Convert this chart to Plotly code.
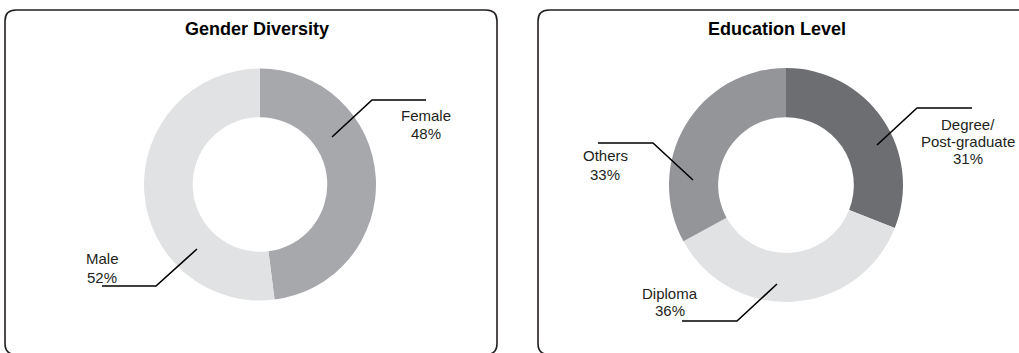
import plotly.graph_objects as go

W, H = 1019, 353

# --- data -------------------------------------------------------------
gender_labels = ["Female", "Male"]
gender_values = [48, 52]
gender_colors = ["#a7a8ab", "#e1e2e3"]

edu_labels = ["Degree/Post-graduate", "Diploma", "Others"]
edu_values = [31, 36, 33]
edu_colors = ["#6d6e71", "#e1e2e3", "#939598"]

FONT = "Liberation Sans, Arial, Helvetica, sans-serif"
INK = "#231f20"


def px(x):
    return x / W


def py(y):
    return 1 - y / H


def donut_domain(cx, cy, r):
    return dict(x=[px(cx - r), px(cx + r)], y=[py(cy + r), py(cy - r)])


def rounded_panel(x0, y0, x1, y1, r):
    pts = [
        f"M {px(x0 + r)},{py(y0)}",
        f"L {px(x1 - r)},{py(y0)}",
        f"Q {px(x1)},{py(y0)} {px(x1)},{py(y0 + r)}",
        f"L {px(x1)},{py(y1 - r)}",
        f"Q {px(x1)},{py(y1)} {px(x1 - r)},{py(y1)}",
        f"L {px(x0 + r)},{py(y1)}",
        f"Q {px(x0)},{py(y1)} {px(x0)},{py(y1 - r)}",
        f"L {px(x0)},{py(y0 + r)}",
        f"Q {px(x0)},{py(y0)} {px(x0 + r)},{py(y0)}",
        "Z",
    ]
    return dict(type="path", xref="paper", yref="paper", path=" ".join(pts),
                line=dict(color=INK, width=1.6), fillcolor="rgba(0,0,0,0)",
                layer="below")


def leader(points):
    d = "M " + " L ".join(f"{px(x)},{py(y)}" for x, y in points)
    return dict(type="path", xref="paper", yref="paper", path=d,
                line=dict(color="#000000", width=1.6))


def text_lines(lines, cx, ys, size=15):
    out = []
    for t, y in zip(lines, ys):
        out.append(dict(text=t, x=px(cx), y=py(y), xref="paper", yref="paper",
                        xanchor="center", yanchor="middle", showarrow=False,
                        font=dict(family=FONT, size=size, color=INK)))
    return out


fig = go.Figure()

fig.add_trace(go.Pie(
    labels=gender_labels, values=gender_values, hole=0.58, sort=False,
    direction="clockwise", rotation=0, textinfo="none", hoverinfo="label+percent",
    marker=dict(colors=gender_colors, line=dict(width=0)),
    domain=donut_domain(260, 184.5, 116), showlegend=False,
))

fig.add_trace(go.Pie(
    labels=edu_labels, values=edu_values, hole=0.58, sort=False,
    direction="clockwise", rotation=0, textinfo="none", hoverinfo="label+percent",
    marker=dict(colors=edu_colors, line=dict(width=0)),
    domain=donut_domain(786, 185, 117), showlegend=False,
))

shapes = [
    rounded_panel(5, 10, 497, 354.5, 11),
    rounded_panel(538, 10, 1032, 354.5, 11),
    # gender leaders
    leader([(332, 137), (372, 100), (426, 100)]),
    leader([(197, 249), (156, 286), (102, 286)]),
    # education leaders
    leader([(877, 145), (917, 108), (972, 108)]),
    leader([(693, 180), (653, 143), (598, 143)]),
    leader([(777, 284), (737, 321), (682, 321)]),
]

annotations = []
# panel titles
for title, cx in [("Gender Diversity", 257), ("Education Level", 777)]:
    annotations.append(dict(text=f"<b>{title}</b>", x=px(cx), y=py(29),
                            xref="paper", yref="paper", xanchor="center",
                            yanchor="middle", showarrow=False,
                            font=dict(family=FONT, size=18, color="#000000")))

pct = lambda v: f"{v}%"
annotations += text_lines([gender_labels[0], pct(gender_values[0])], 426, [115.5, 133])
annotations += text_lines([gender_labels[1], pct(gender_values[1])], 102, [258.5, 277])

deg_a, deg_b = edu_labels[0].split("/")
annotations += text_lines([deg_a + "/", deg_b, pct(edu_values[0])], 968, [124, 141, 158.5])
annotations += text_lines([edu_labels[1], pct(edu_values[1])], 670, [293.5, 310.5])
annotations += text_lines([edu_labels[2], pct(edu_values[2])], 605, [155.5, 174])

fig.update_layout(
    width=W, height=H, margin=dict(l=0, r=0, t=0, b=0),
    paper_bgcolor="white", plot_bgcolor="white",
    shapes=shapes, annotations=annotations,
)

fig.write_html("out.html")
